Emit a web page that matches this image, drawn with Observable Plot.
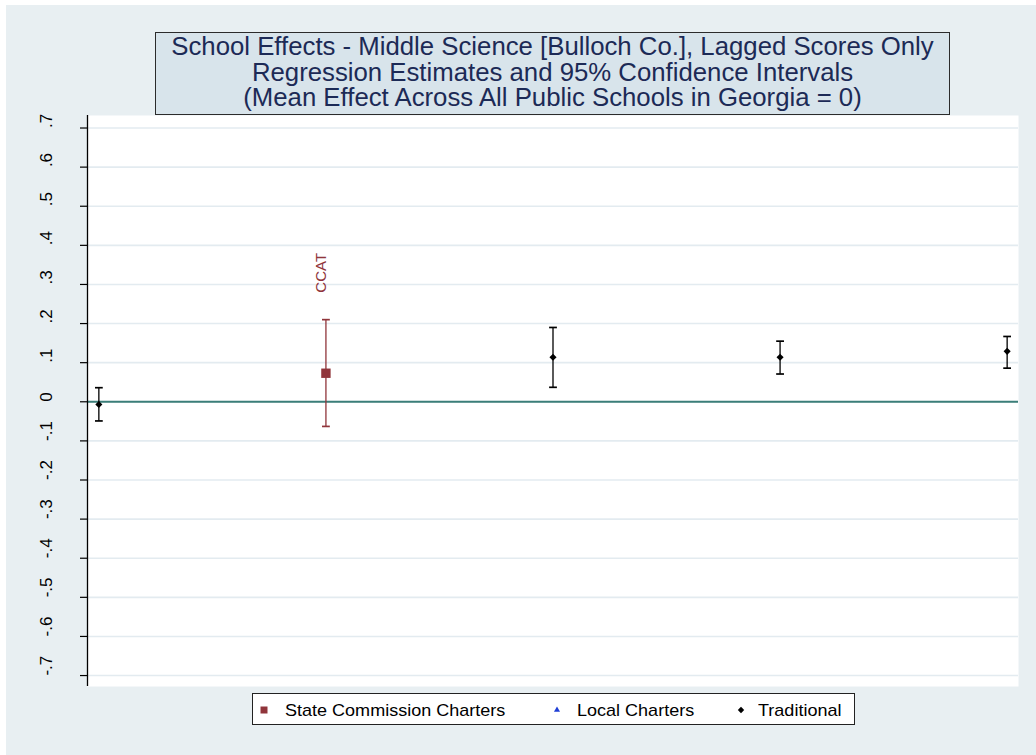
<!DOCTYPE html>
<html>
<head>
<meta charset="utf-8">
<script src="https://cdn.jsdelivr.net/npm/d3@7"></script>
<script src="https://cdn.jsdelivr.net/npm/@observablehq/plot@0.6"></script>
<style>
  html, body { margin: 0; padding: 0; background: #ffffff; }
  #page { position: relative; width: 1036px; height: 755px; background: #e8eff2; overflow: hidden;
          font-family: "Liberation Sans", Arial, Helvetica, sans-serif; }
  #stripTop { position: absolute; left: 0; top: 0; width: 1036px; height: 5px; background: #fff; }
  #stripLeft { position: absolute; left: 0; top: 0; width: 6px; height: 755px; background: #fff; }
  #chart { position: absolute; left: 0; top: 0; }
  #title { position: absolute; left: 155px; top: 32px; width: 795px; height: 83px; box-sizing: border-box;
           border: 1.5px solid #2b2b2b; background: #d8e4eb; color: #1c2a56; text-align: center;
           font-size: 25px; line-height: 25.5px; padding-top: 1.1px; }
  #title div { white-space: nowrap; transform: scaleX(1.03); transform-origin: 50% 50%; }
  #legend { position: absolute; left: 252px; top: 693px; width: 603px; height: 32px; box-sizing: border-box;
            border: 1.3px solid #222; background: #fff; }
  .li { position: absolute; top: 6.5px; font-size: 17px; line-height: 20px; color: #000; white-space: nowrap;
        transform: scaleX(1.06); transform-origin: 0 50%; }
  .sw { position: absolute; }
</style>
</head>
<body>
<div id="page">
  <div id="stripTop"></div>
  <div id="stripLeft"></div>
  <div id="chart"></div>
  <div id="title"></div>
  <div id="legend"></div>
</div>
<script>
// ---- data ----
const schools   = ["Traditional 1", "CCAT", "Traditional 2", "Traditional 3", "Traditional 4"];
const groups    = ["Traditional", "State Commission Charters", "Traditional", "Traditional", "Traditional"];
const estimates = [-0.007, 0.073, 0.114, 0.114, 0.129];
const lower     = [-0.049, -0.063, 0.037, 0.071, 0.086];
const upper     = [0.036, 0.210, 0.190, 0.155, 0.167];
const pointLabels = ["", "CCAT", "", "", ""];
const yTicks    = [-0.7, -0.6, -0.5, -0.4, -0.3, -0.2, -0.1, 0, 0.1, 0.2, 0.3, 0.4, 0.5, 0.6, 0.7];
const yTickLabels = ["-.7", "-.6", "-.5", "-.4", "-.3", "-.2", "-.1", "0", ".1", ".2", ".3", ".4", ".5", ".6", ".7"];
const legendGroups = ["State Commission Charters", "Local Charters", "Traditional"];
const legendColors = ["#90353b", "#1f3fd6", "#000000"];
const legendSymbols = ["square", "triangle", "diamond2"];
const titleLines = [
  "School Effects - Middle Science [Bulloch Co.], Lagged Scores Only",
  "Regression Estimates and 95% Confidence Intervals",
  "(Mean Effect Across All Public Schools in Georgia = 0)"
];

const rows = schools.map((s, i) => ({
  school: s, pos: i, group: groups[i], est: estimates[i], lo: lower[i], hi: upper[i], label: pointLabels[i]
}));

// ---- title ----
document.getElementById("title").innerHTML = titleLines.map(t => `<div>${t}</div>`).join("");

// ---- chart ----
const chart = Plot.plot({
  width: 1036,
  height: 755,
  marginTop: 115,
  marginBottom: 69,
  marginLeft: 87,
  marginRight: 18,
  style: { background: "transparent", fontFamily: "'Liberation Sans', Arial, sans-serif", overflow: "visible" },
  x: { domain: [-0.05, 4.05], axis: null },
  y: { domain: [-0.728, 0.732], axis: null },
  color: { domain: legendGroups, range: legendColors },
  symbol: { domain: legendGroups, range: legendSymbols },
  marks: [
    Plot.frame({ fill: "white", stroke: "none" }),
    Plot.gridY(yTicks, { stroke: "#e3ebf0", strokeOpacity: 1, strokeWidth: 1.6 }),
    Plot.ruleY([0], { stroke: "#3b7e79", strokeWidth: 2 }),
    Plot.axisY(yTicks, { tickSize: 7, tickFormat: () => "", stroke: "black", strokeWidth: 1.2, label: null }),
    Plot.ruleX([-0.05], { stroke: "black", strokeWidth: 1.3 }),
    Plot.text(yTicks, { y: d => d, text: (d, i) => yTickLabels[i], frameAnchor: "left", dx: -41,
                        rotate: -90, fontSize: 17, fill: "black" }),
    Plot.link(rows, { x1: "pos", x2: "pos", y1: "lo", y2: "hi", stroke: "group", strokeWidth: 1.3, marker: "tick" }),
    Plot.dot(rows.filter(d => d.group === "State Commission Charters"),
             { x: "pos", y: "est", symbol: "group", fill: "group", r: 5.3, stroke: "none" }),
    Plot.dot(rows.filter(d => d.group === "Traditional"),
             { x: "pos", y: "est", symbol: "group", fill: "group", r: 3.2, stroke: "none" }),
    Plot.text(rows.filter(d => d.label), { x: "pos", y: "hi", text: "label", rotate: -90, textAnchor: "start",
             dy: -27, dx: -5, fontSize: 15, fill: "group" })
  ]
});
document.getElementById("chart").appendChild(chart);

// ---- legend ----
const legend = document.getElementById("legend");
const swX = [4.7, 298, 482];
const txX = [31.5, 324, 504.5];
legendGroups.forEach((g, i) => {
  const sw = d3.create("svg").attr("class", "sw").attr("width", 12).attr("height", 12)
    .style("left", swX[i] + "px").style("top", "10.2px");
  const sym = { square: d3.symbolSquare, triangle: d3.symbolTriangle, diamond2: d3.symbolDiamond2 }[legendSymbols[i]];
  const size = legendSymbols[i] === "square" ? 49 : legendSymbols[i] === "triangle" ? 16 : 26;
  sw.append("path").attr("transform", "translate(6,6)").attr("d", d3.symbol(sym, size)()).attr("fill", legendColors[i]);
  legend.appendChild(sw.node());
  const sp = document.createElement("span");
  sp.className = "li";
  sp.style.left = txX[i] + "px";
  sp.textContent = g;
  legend.appendChild(sp);
});
</script>
</body>
</html>
